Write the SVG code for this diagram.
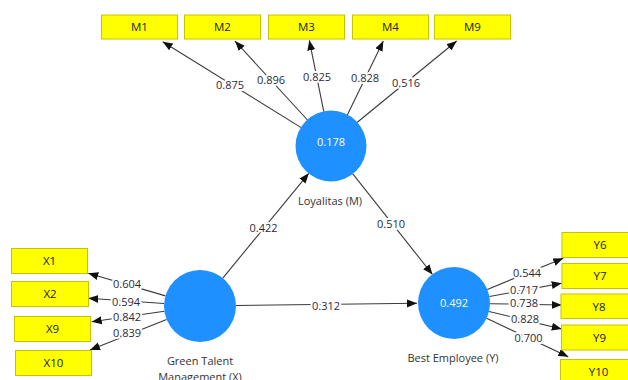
<svg xmlns="http://www.w3.org/2000/svg" width="628" height="380" viewBox="0 0 628 380">
<style>
.box{fill:#FFFF00;stroke:#C9C200;stroke-width:1}
.bt{font-family:"Open Sans","Noto Sans","Liberation Sans",sans-serif;font-size:11.5px;fill:#222;text-anchor:middle}
.lv{fill:#1E90FF}
.lvt{font-family:"Open Sans","Noto Sans","Liberation Sans",sans-serif;font-size:11px;fill:#fff;text-anchor:middle}
.cap{font-family:"Open Sans","Noto Sans","Liberation Sans",sans-serif;font-size:11px;fill:#333;text-anchor:middle}
.ln{stroke:#3a3a3a;stroke-width:1.1;fill:none;marker-end:url(#ah)}
.lb{font-family:"Open Sans","Noto Sans","Liberation Sans",sans-serif;font-size:11px;fill:#2a2a3a;text-anchor:middle;stroke:#fff;stroke-width:4;paint-order:stroke;stroke-linejoin:round}
</style>
<defs>
<marker id="ah" markerUnits="userSpaceOnUse" markerWidth="10" markerHeight="10" viewBox="0 0 10 10" refX="10" refY="5" orient="auto">
<path d="M0,1 L10,5 L0,9 Z" fill="#111"/>
</marker>
</defs>
<rect width="628" height="380" fill="#fff"/>
<g id="connectors">
<line class="ln" x1="301.2" y1="127.6" x2="162.7" y2="41.7"/>
<line class="ln" x1="307.5" y1="120" x2="235" y2="41"/>
<line class="ln" x1="323.8" y1="111.7" x2="309.3" y2="40.3"/>
<line class="ln" x1="347.3" y1="115" x2="383.3" y2="41"/>
<line class="ln" x1="357" y1="122.5" x2="456.7" y2="41"/>
<line class="ln" x1="222.8" y1="278.1" x2="308.8" y2="173.3"/>
<line class="ln" x1="352.6" y1="173.6" x2="432.5" y2="274.5"/>
<line class="ln" x1="236" y1="305.5" x2="417" y2="303.3"/>
<line class="ln" x1="165.5" y1="295.9" x2="88.3" y2="273.3"/>
<line class="ln" x1="164.1" y1="303.5" x2="88.3" y2="298.3"/>
<line class="ln" x1="164.4" y1="311.2" x2="91.7" y2="321.7"/>
<line class="ln" x1="166.6" y1="319.4" x2="90" y2="350"/>
<line class="ln" x1="487.3" y1="289.4" x2="563.3" y2="258.3"/>
<line class="ln" x1="489.4" y1="296.5" x2="561.7" y2="283.3"/>
<line class="ln" x1="490" y1="303.7" x2="561.7" y2="305"/>
<line class="ln" x1="489" y1="311.5" x2="561.7" y2="329"/>
<line class="ln" x1="486.6" y1="318.3" x2="568.3" y2="356.7"/>
<text class="lb" x="230" y="89">0.875</text>
<text class="lb" x="271" y="84">0.896</text>
<text class="lb" x="317" y="81">0.825</text>
<text class="lb" x="365" y="81.5">0.828</text>
<text class="lb" x="406" y="87">0.516</text>
<text class="lb" x="263.5" y="231.5">0.422</text>
<text class="lb" x="391" y="228">0.510</text>
<text class="lb" x="326" y="310">0.312</text>
<text class="lb" x="127" y="288">0.604</text>
<text class="lb" x="126" y="305.7">0.594</text>
<text class="lb" x="127" y="321.3">0.842</text>
<text class="lb" x="127" y="336.7">0.839</text>
<text class="lb" x="527" y="277.3">0.544</text>
<text class="lb" x="524" y="294">0.717</text>
<text class="lb" x="524" y="307.3">0.738</text>
<text class="lb" x="525" y="323.3">0.828</text>
<text class="lb" x="528.5" y="342.3">0.700</text>
</g>
<g id="M1"><rect class="box" x="101.5" y="15" width="76" height="24"/><text class="bt" x="139.5" y="31">M1</text></g>
<g id="M2"><rect class="box" x="184.5" y="15" width="76" height="24"/><text class="bt" x="222.5" y="31">M2</text></g>
<g id="M3"><rect class="box" x="268.5" y="15" width="76" height="24"/><text class="bt" x="306.5" y="31">M3</text></g>
<g id="M4"><rect class="box" x="352.5" y="15" width="76" height="24"/><text class="bt" x="390.5" y="31">M4</text></g>
<g id="M9"><rect class="box" x="434.5" y="15" width="76" height="24"/><text class="bt" x="472.5" y="31">M9</text></g>
<g id="X1"><rect class="box" x="11.5" y="248.5" width="76" height="25"/><text class="bt" x="49.5" y="265">X1</text></g>
<g id="X2"><rect class="box" x="11.5" y="281.5" width="77" height="25"/><text class="bt" x="50" y="298">X2</text></g>
<g id="X9"><rect class="box" x="14.5" y="316.5" width="76" height="25"/><text class="bt" x="52.5" y="333">X9</text></g>
<g id="X10"><rect class="box" x="15.5" y="350.5" width="76" height="25"/><text class="bt" x="53.5" y="367">X10</text></g>
<g id="Y6"><rect class="box" x="562" y="232.5" width="76" height="25"/><text class="bt" x="600" y="249">Y6</text></g>
<g id="Y7"><rect class="box" x="562" y="263.5" width="76" height="25"/><text class="bt" x="600" y="280">Y7</text></g>
<g id="Y8"><rect class="box" x="561" y="294" width="76" height="24.5"/><text class="bt" x="599" y="310.5">Y8</text></g>
<g id="Y9"><rect class="box" x="561.5" y="325" width="76" height="25"/><text class="bt" x="599.5" y="341.5">Y9</text></g>
<g id="Y10"><rect class="box" x="560.5" y="359.5" width="76" height="25"/><text class="bt" x="598.5" y="376">Y10</text></g>
<g id="Loyalitas"><circle class="lv" cx="331" cy="146" r="35.5"/><text class="lvt" x="331" y="146">0.178</text><text class="cap" x="330" y="204.5">Loyalitas (M)</text></g>
<g id="GreenTalent"><circle class="lv" cx="200" cy="306" r="36"/><text class="cap" x="200" y="364.5">Green Talent</text><text class="cap" x="200" y="380.5">Management (X)</text></g>
<g id="BestEmployee"><circle class="lv" cx="454" cy="303" r="36"/><text class="lvt" x="454" y="307">0.492</text><text class="cap" x="453" y="362">Best Employee (Y)</text></g>
</svg>
